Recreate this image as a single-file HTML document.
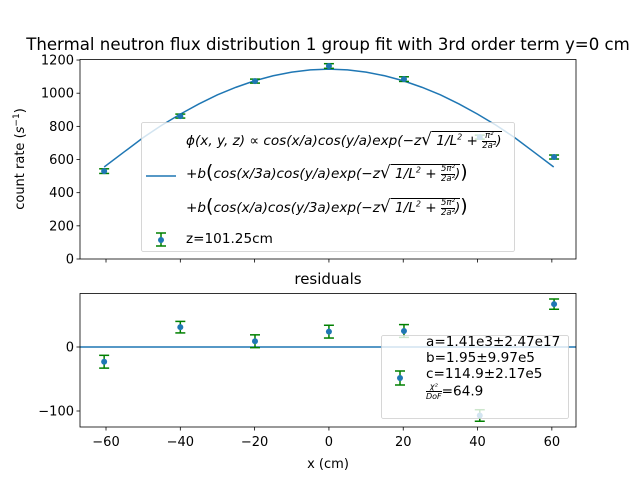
<!DOCTYPE html>
<html><head><meta charset="utf-8"><style>
body{margin:0;background:#fff;font-family:"Liberation Sans","DejaVu Sans",sans-serif;}
#wrap{position:relative;width:640px;height:480px;overflow:hidden;}
svg{position:absolute;left:0;top:0}
.lg{position:absolute;font-family:"DejaVu Sans",sans-serif;font-size:13.6px;color:#000;white-space:nowrap}
.m{font-style:italic}
.sq{border-top:1px solid #000;padding-top:1px}
.fr{display:inline-block;vertical-align:middle;text-align:center;font-size:8.5px;line-height:9px}
.fr span{display:block}
.fr .n{border-bottom:0.8px solid #000}
</style></head><body>
<div id="wrap">
<svg id="svg" width="640" height="480" xmlns="http://www.w3.org/2000/svg" font-family="DejaVu Sans, sans-serif" font-size="13"></svg>

<div class="lg" style="left:186px;top:130px;font-size:13.6px"><span class="m">ϕ(x, y, z) ∝ cos(x/a)cos(y/a)exp(−z</span><span style="font-size:17px">√</span><span class="sq m"> 1/L<sup style="font-size:8px">2</sup> + <span class="fr"><span class="n">π²</span><span>2a²</span></span>)</span></div>
<div class="lg" style="left:186px;top:161px;font-size:13.6px"><span class="m">+b</span><span style="font-size:19px">(</span><span class="m">cos(x/3a)cos(y/a)exp(−z</span><span style="font-size:17px">√</span><span class="sq m"> 1/L<sup style="font-size:8px">2</sup> + <span class="fr"><span class="n">5π²</span><span>2a²</span></span>)</span><span style="font-size:19px">)</span></div>
<div class="lg" style="left:186px;top:195px;font-size:13.6px"><span class="m">+b</span><span style="font-size:19px">(</span><span class="m">cos(x/a)cos(y/3a)exp(−z</span><span style="font-size:17px">√</span><span class="sq m"> 1/L<sup style="font-size:8px">2</sup> + <span class="fr"><span class="n">5π²</span><span>2a²</span></span>)</span><span style="font-size:19px">)</span></div>
<div class="lg" style="left:186px;top:231px">z=101.25cm</div>

<div class="lg" style="left:426px;top:334px;line-height:16px">a=1.41e3±2.47e17<br>b=1.95±9.97e5<br>c=114.9±2.17e5<br><span class="fr" style="font-size:8px"><span class="n m">χ²</span><span class="m">DoF</span></span>=64.9</div>
</div>
<script>
const xs=[-60.5,-40,-19.9,0,20.2,40.6,60.6];
const counts=[530,862,1073,1164,1085,735,615];
const countErr=[14,12,12,14,14,12,12];
const fitX=[-60.5,-55,-50,-45,-40,-35,-30,-25,-20,-15,-10,-5,0,5,10,15,20,25,30,35,40,45,50,55,60.5];
const fitY=[555,648,732,807,874,935,990,1036,1075,1105,1127,1141,1145,1141,1127,1105,1075,1036,990,935,874,807,732,648,555];
const resid=[-23,31,9,24,25,-107,67];
const residErr=[10,9,10,10,10,9,8];
const yTicksTop=[0,200,400,600,800,1000,1200];
const yTicksBot=[-100,0];
const xTicks=[-60,-40,-20,0,20,40,60];

const svg=document.getElementById('svg');
const NS='http://www.w3.org/2000/svg';
function el(t,a,p){const e=document.createElementNS(NS,t);for(const k in a)e.setAttribute(k,a[k]);(p||svg).appendChild(e);return e;}
const L=80,R=576;
const sx=v=>L+(v+67)/(133.5)*(R-L);
const syT=v=>259-v*0.1658;
const syB=v=>347-v*0.64;

let g=el('g',{});


let pts='';fitX.forEach((x,i)=>pts+=sx(x)+','+syT(fitY[i])+' ');
let fl=el('polyline',{points:pts,fill:'none',stroke:'#1f77b4','stroke-width':1.5},g);


function errbar(x,y,lo,hi,gp,name){
  const gg=el('g',{},gp);
  
  
  el('line',{x1:x,x2:x,y1:lo,y2:hi,stroke:'green','stroke-width':1.5},gg);
  el('line',{x1:x-5,x2:x+5,y1:lo,y2:lo,stroke:'green','stroke-width':1.5},gg);
  el('line',{x1:x-5,x2:x+5,y1:hi,y2:hi,stroke:'green','stroke-width':1.5},gg);
  el('circle',{cx:x,cy:y,r:3,fill:'#1f77b4'},gg);
}
xs.forEach((x,i)=>errbar(sx(x),syT(counts[i]),syT(counts[i]-countErr[i]),syT(counts[i]+countErr[i]),g,'data-point'));
el('rect',{x:L,y:59.5,width:R-L,height:199.5,fill:'none',stroke:'#000','stroke-width':0.8},g);
yTicksTop.forEach(v=>{const y=syT(v);el('line',{x1:L-3.5,x2:L,y1:y,y2:y,stroke:'#000','stroke-width':0.8});
 const t=el('text',{x:L-6,y:y+4.5,'text-anchor':'end'});t.textContent=v;
 });
xTicks.forEach(v=>{const x=sx(v);el('line',{x1:x,x2:x,y1:259,y2:262.5,stroke:'#000','stroke-width':0.8});});
let yt=el('text',{x:24,y:159,'text-anchor':'middle',transform:'rotate(-90 24 159)'});

yt.innerHTML='count rate (<tspan font-style="italic">s</tspan><tspan dy="-5" font-size="9">−1</tspan><tspan dy="5">)</tspan>';
let tt=el('text',{x:328,y:50,'text-anchor':'middle','font-size':16.6});tt.textContent='Thermal neutron flux distribution 1 group fit with 3rd order term y=0 cm';

let lb=el('rect',{x:141.5,y:122.5,width:373,height:129,rx:2,fill:'#fff','fill-opacity':0.8,stroke:'#ccc','stroke-width':0.8});

el('line',{x1:146,x2:176,y1:176,y2:176,stroke:'#1f77b4','stroke-width':1.5});
errbar(161,240,246,233,svg,'legend-marker');

let g2=el('g',{});


el('line',{x1:L,x2:R,y1:syB(0),y2:syB(0),stroke:'#1f77b4','stroke-width':1.5},g2);
xs.forEach((x,i)=>errbar(sx(x),syB(resid[i]),syB(resid[i]-residErr[i]),syB(resid[i]+residErr[i]),g2,'residual-point'));
el('rect',{x:L,y:293.5,width:R-L,height:133.5,fill:'none',stroke:'#000','stroke-width':0.8},g2);
yTicksBot.forEach(v=>{const y=syB(v);el('line',{x1:L-3.5,x2:L,y1:y,y2:y,stroke:'#000','stroke-width':0.8});
 const t=el('text',{x:L-6,y:y+4.5,'text-anchor':'end'});t.textContent=v<0?'−'+(-v):v;
 });
xTicks.forEach(v=>{const x=sx(v);el('line',{x1:x,x2:x,y1:427,y2:430.5,stroke:'#000','stroke-width':0.8});
 const t=el('text',{x:x,y:446,'text-anchor':'middle'});t.textContent=v<0?'−'+(-v):v;
 });
let rt=el('text',{x:328,y:284,'text-anchor':'middle','font-size':15});rt.textContent='residuals';

let xt=el('text',{x:328,y:468,'text-anchor':'middle'});xt.textContent='x (cm)';

let lb2=el('rect',{x:381.5,y:335.5,width:187,height:83,rx:2,fill:'#fff','fill-opacity':0.8,stroke:'#ccc','stroke-width':0.8});

errbar(400,378,385,371,svg,'residual-legend-marker');
</script>
</body></html>
